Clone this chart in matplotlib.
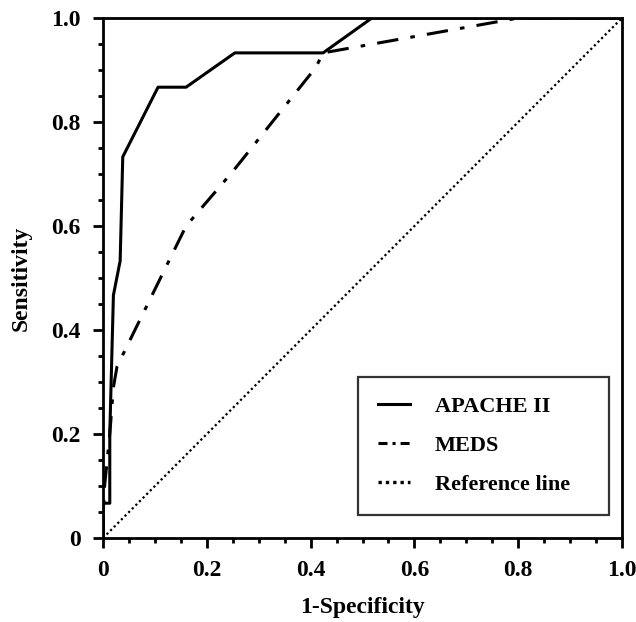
import matplotlib
matplotlib.use("Agg")
import matplotlib.pyplot as plt
from matplotlib.lines import Line2D
from matplotlib.ticker import MultipleLocator

# ROC points
apache_fpr = [0.0, 0.0, 0.013, 0.013, 0.02, 0.033, 0.038, 0.106, 0.16, 0.254, 0.424, 0.518, 1.0]
apache_tpr = [0.0, 0.067, 0.067, 0.2, 0.467, 0.533, 0.733, 0.867, 0.867, 0.933, 0.933, 1.0, 1.0]

meds_fpr = [0.0, 0.002, 0.013, 0.02, 0.027, 0.09, 0.16, 0.25, 0.41, 0.424, 0.80, 1.0]
meds_tpr = [0.0, 0.09, 0.2, 0.29, 0.33, 0.458, 0.6, 0.705, 0.905, 0.933, 1.0, 1.0]

ref_x = [0.0, 1.0]
ref_y = [0.0, 1.0]

xticks = [0, 0.2, 0.4, 0.6, 0.8, 1.0]
xtick_labels = ["0", "0.2", "0.4", "0.6", "0.8", "1.0"]
legend_labels = ["APACHE II", "MEDS", "Reference line"]

plt.rcParams["font.family"] = ["Liberation Serif", "DejaVu Serif"]
plt.rcParams["font.weight"] = "bold"

FS = 17

fig = plt.figure(figsize=(6.36, 6.22), dpi=100)
ax = fig.add_axes([0.162, 0.135, 0.816, 0.836])

ax.plot(apache_fpr, apache_tpr, color="black", lw=2.2, ls="-")
ax.plot(meds_fpr, meds_tpr, color="black", lw=2.2, ls=(0, (7, 4, 1.5, 4)))
ax.plot(ref_x, ref_y, color="black", lw=1.6, ls=(0, (1, 1.3)))

ax.set_xlim(0, 1)
ax.set_ylim(0, 1)
ax.set_xticks(xticks)
ax.set_xticklabels(xtick_labels)
ax.set_yticks(xticks)
ax.set_yticklabels(xtick_labels)
ax.xaxis.set_minor_locator(MultipleLocator(0.05))
ax.yaxis.set_minor_locator(MultipleLocator(0.05))
ax.tick_params(which="major", direction="out", length=7, width=2, labelsize=FS, pad=9)
ax.tick_params(which="minor", direction="out", length=3.6, width=2)
for lab in ax.get_xticklabels() + ax.get_yticklabels():
    lab.set_fontweight("bold")
for sp in ax.spines.values():
    sp.set_linewidth(2)

ax.set_xlabel("1-Specificity", fontsize=FS, fontweight="bold", labelpad=11)
ax.set_ylabel("Sensitivity", fontsize=FS, fontweight="bold", labelpad=14)

# legend handles drawn separately so the short samples look like the original key
handles = [
    Line2D([], [], color="black", lw=2.2, ls="-"),
    Line2D([], [], color="black", lw=2.2, ls=(0, (2.95, 1.64, 1, 1.64))),
    Line2D([], [], color="black", lw=2.4, ls=(0, (1, 1.2))),
]
leg = ax.legend(
    handles, legend_labels,
    loc="lower left", bbox_to_anchor=(0.491, 0.044, 0.484, 0.263), mode="expand",
    frameon=True, fancybox=False, edgecolor="black", handlelength=1.45,
    handletextpad=1.1, labelspacing=0.83, borderpad=0.9, borderaxespad=0,
    prop={"weight": "bold", "size": 16})
leg.get_frame().set_linewidth(1.6)

fig.savefig("out.png", dpi=100)
